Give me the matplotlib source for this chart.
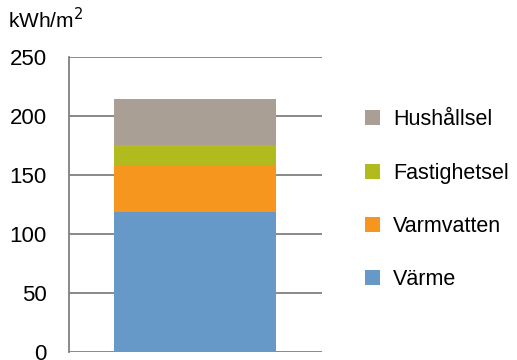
import matplotlib
matplotlib.use("Agg")
import matplotlib.pyplot as plt

plt.rcParams['font.family'] = ['Liberation Sans', 'DejaVu Sans']

# data (kWh/m2), stacked from the bottom
categories = ['Värme', 'Varmvatten', 'Fastighetsel', 'Hushållsel']
values = [119, 39, 17, 39]
colors = ['#6699c8', '#f7961f', '#b2bb1e', '#aa9f94']
yticks = [0, 50, 100, 150, 200, 250]

fig = plt.figure(figsize=(5.17, 3.6), dpi=100)
ax = fig.add_axes([0.1335, 0.0222, 0.4895, 0.8195])

bottom = 0
handles = []
for cat, val, col in zip(categories, values, colors):
    h = ax.bar(0.498, val, width=0.64, bottom=bottom, color=col, label=cat, zorder=3)
    handles.append(h)
    bottom += val

ax.set_xlim(0, 1)
ax.set_ylim(0, 250)
ax.set_yticks(yticks)
ax.set_xticks([])
ax.yaxis.grid(True, color='#808080', linewidth=1.3, zorder=0)
ax.set_axisbelow(True)
ax.tick_params(axis='y', length=0, pad=16, labelsize=16)
for s in ['top', 'right', 'bottom']:
    ax.spines[s].set_visible(False)
ax.spines['left'].set_color('#808080')
ax.spines['left'].set_linewidth(1.3)

fig.text(0.015, 0.945, 'kWh/m$^2$', fontsize=15, ha='left', va='center')

leg = fig.legend(handles[::-1], categories[::-1], loc='upper left',
                 bbox_to_anchor=(0.69, 0.72), frameon=False, fontsize=15.5,
                 handlelength=0.68, handleheight=0.68, handletextpad=0.6,
                 labelspacing=1.5, borderaxespad=0)

fig.savefig('out.png', dpi=100)
